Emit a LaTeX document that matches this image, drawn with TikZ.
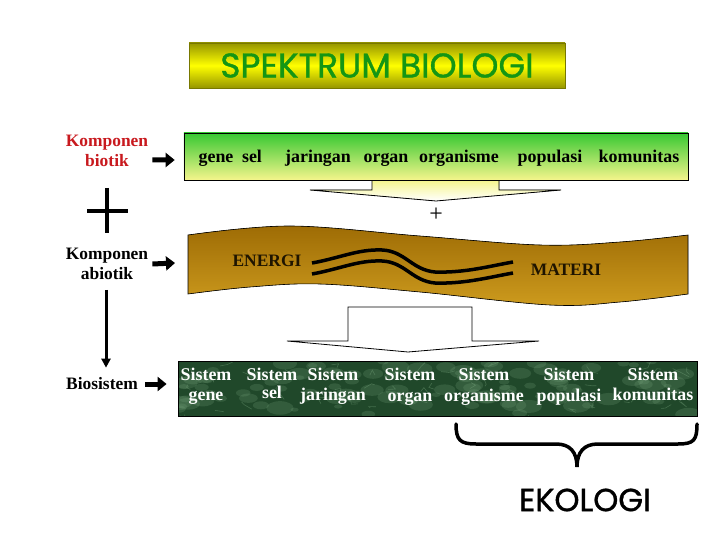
\documentclass[tikz,border=0pt]{standalone}
\usepackage{fontspec}
\setmainfont{Liberation Serif}
\newfontfamily\comicfont{Poppins}[FakeBold=1.1]
\usetikzlibrary{arrows.meta}

% warna
\definecolor{titleGreen}{RGB}{20,150,20}
\definecolor{titleOlive}{RGB}{150,150,0}
\definecolor{leafGreen}{RGB}{55,200,50}
\definecolor{paleYellow}{RGB}{245,245,140}
\definecolor{bandTop}{RGB}{158,108,5}
\definecolor{bandBot}{RGB}{205,155,30}
\definecolor{mossDark}{RGB}{32,72,42}
\definecolor{mossLight}{RGB}{120,165,125}
\definecolor{biotikRed}{RGB}{200,25,30}
\definecolor{inkBrown}{RGB}{30,20,0}

\tikzset{
  lbl/.style={font=\fontsize{17.5}{20}\selectfont\bfseries, align=center, inner sep=0pt},
  word/.style={font=\fontsize{18}{19}\selectfont\bfseries, anchor=base, inner sep=0pt},
  systxt/.style={word, text=white},
  fatarrow/.style={line width=5bp, -{Triangle[length=9bp,width=14bp]}},
  thinarrow/.style={line width=3bp, -{Triangle[length=9bp,width=9bp]}},
  blockarr/.style={draw=black, line width=0.8bp},
}

\begin{document}
\begin{tikzpicture}[x=1bp, y=-1bp]
  \useasboundingbox (0,0) rectangle (720,540);

  % --- judul ---
  \node[draw=titleOlive!80!black, line width=0.6bp, top color=titleOlive, bottom color=titleOlive,
        middle color=yellow, minimum width=376bp, minimum height=45bp,
        font=\comicfont\fontsize{34.5}{34.5}\selectfont, text=titleGreen] (judul) at (377,65.5) {SPEKTRUM BIOLOGI};

  % --- kolom kiri ---
  \node[lbl, text=biotikRed] (biotik) at (107,151) {Komponen\\biotik};
  \node[lbl] (abiotik) at (107,264) {Komponen\\abiotik};
  \node[lbl] (biosis) at (102,384) {Biosistem};

  % tanda tambah
  \draw[line width=4bp] (107,188) -- (107,233);
  \draw[line width=4bp] (87,211) -- (128,211);

  \draw[thinarrow, shorten <=10bp, shorten >=10bp] (abiotik.south -| 106,0) -- (biosis.north -| 106,0);

  % --- rantai biologi ---
  \fill[top color=paleYellow, bottom color=white] (372,180) -- (372,190) -- (310,190) -- (436,201)
        -- (561,190) -- (499,190) -- (499,180) -- cycle;
  \draw[blockarr] (372,180) -- (372,190) -- (310,190) -- (436,201) -- (561,190) -- (499,190) -- (499,180);
  \node[draw=black, line width=0.6bp, top color=leafGreen, bottom color=paleYellow,
        minimum width=504bp, minimum height=47bp] (rantai) at (436,156.5) {};
  \foreach \x/\w in {216/gene, 252/sel, 318/jaringan, 386/organ, 459/organisme, 550/populasi, 639/komunitas}
    \node[word] at (\x,163) {\w};

  \node[font=\fontsize{24}{24}\selectfont, inner sep=0pt] (tambah) at (436,215) {+};

  % --- pita energi & materi ---
  \filldraw[draw=black, line width=0.6bp, top color=bandTop, bottom color=bandBot]
    plot[smooth, tension=0.6] coordinates {(188,235) (290,226) (420,236) (540,245) (620,242) (688,235)}
    -- plot[smooth, tension=0.6] coordinates {(688,294) (620,302) (550,305) (420,292) (320,284) (250,287) (188,294)}
    -- cycle;
  \node[lbl, text=inkBrown] (energi) at (267,261) {ENERGI};
  \node[lbl, text=inkBrown] (materi) at (566,270) {MATERI};
  \foreach \dy in {0,11}
    \draw[line width=3.5bp, yshift=-\dy bp] (312,263) .. controls (340,258) and (358,249) .. (382,250)
      .. controls (405,251) and (412,270) .. (435,272) .. controls (465,273) and (490,266) .. (513,262);

  \filldraw[fill=white, blockarr] (348,341) -- (348,307) -- (472,307) -- (472,341) -- (539,341)
    -- (408,352) -- (287,341) -- cycle;

  % --- biosistem ---
  \node[draw=black, line width=0.8bp, fill=mossDark, minimum width=519bp, minimum height=55bp] (sistem) at (437.5,388.5) {};
  \begin{scope}
    \clip (178,361) rectangle (697,416);
    \pgfmathsetseed{11}
    \foreach \k in {1,...,110} {
      \pgfmathsetmacro\px{178+519*rnd}
      \pgfmathsetmacro\py{361+55*rnd}
      \pgfmathsetmacro\rr{4+10*rnd}
      \fill[mossLight, opacity=0.22] (\px,\py) ellipse [x radius=\rr, y radius=0.5*\rr];
    }
    \foreach \k in {1,...,50} {
      \pgfmathsetmacro\px{178+519*rnd}
      \pgfmathsetmacro\py{361+55*rnd}
      \draw[mossLight, opacity=0.4, line width=0.6bp] (\px,\py) -- ++(20*rnd-10,12*rnd-6) -- ++(16*rnd-8,10*rnd-5);
    }
  \end{scope}
  \draw[line width=0.8bp] (178,361) rectangle (697,416);
  \foreach \x/\y/\w in {206/400/gene, 272/398/sel, 333/400/jaringan, 410/401/organ, 484/401/organisme, 569/401/populasi, 653/400/komunitas} {
    \node[systxt] at (\x,380) {Sistem};
    \node[systxt] at (\x,\y) {\w};
  }

  % panah kiri
  \draw[fatarrow] ([xshift=4bp,yshift=-9bp]biotik.east) -- ([xshift=-9bp,yshift=-3.5bp]rantai.west);
  \draw[fatarrow] ([xshift=4bp]abiotik.east) -- (175,263);
  \draw[fatarrow] ([xshift=7bp]biosis.east) -- ([xshift=-11bp]sistem.west |- biosis.east);

  % --- kurung ekologi ---
  \draw[line width=3.5bp, line cap=round] (456,424) .. controls (456,440) and (460,444) .. (476,444) -- (556,444)
    .. controls (570,444) and (577,452) .. (577,467) .. controls (577,452) and (584,444) .. (598,444) -- (678,444)
    .. controls (694,444) and (697,440) .. (697,424);
  \node[font=\comicfont\fontsize{32}{32}\selectfont] (ekologi) at (585,500) {EKOLOGI};
\end{tikzpicture}
\end{document}
